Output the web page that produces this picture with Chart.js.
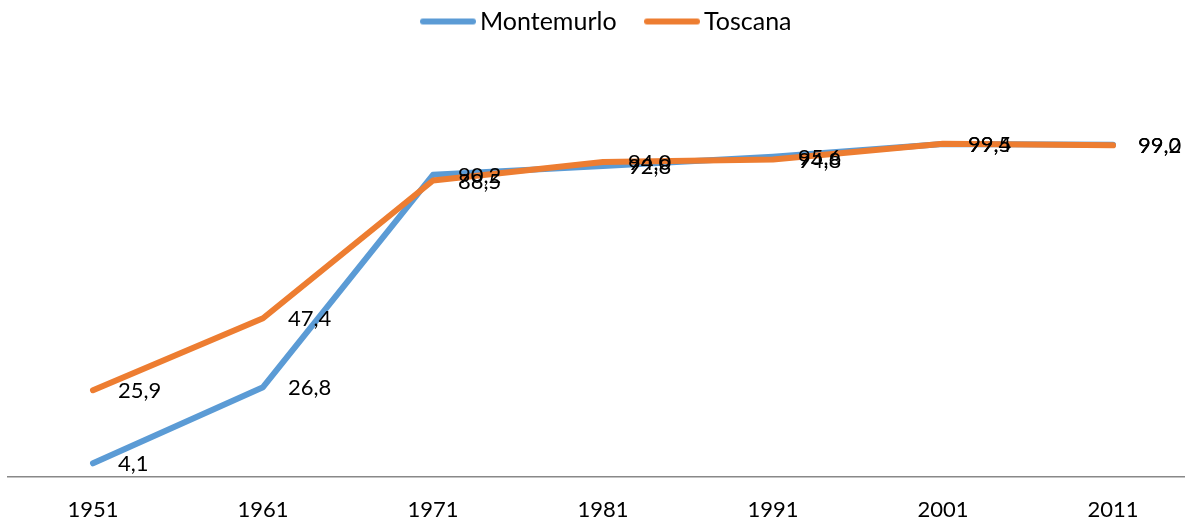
<!DOCTYPE html>
<html>
<head>
<meta charset="utf-8">
<script src="https://cdn.jsdelivr.net/npm/chart.js@4/dist/chart.umd.min.js"></script>
<style>
  html, body { margin: 0; padding: 0; background: #fff; overflow: hidden; }
  #wrap { position: relative; width: 1206px; height: 521px; }
</style>
</head>
<body>
<div id="wrap"><canvas id="c" width="1206" height="521"></canvas></div>
<script>
const categories = ["1951", "1961", "1971", "1981", "1991", "2001", "2011"];
const montemurlo = [4.1, 26.8, 90.2, 92.8, 95.6, 99.4, 99.2];
const toscana = [25.9, 47.4, 88.5, 94.0, 94.8, 99.5, 99.0];
const seriesNames = ["Montemurlo", "Toscana"];
const seriesColors = ["#5B9BD5", "#ED7D31"];

const FONT = "Lato, 'Open Sans', sans-serif";

function lineIcon(color) {
  const c = document.createElement('canvas');
  c.width = 56; c.height = 8;
  const g = c.getContext('2d');
  g.strokeStyle = color; g.lineWidth = 6; g.lineCap = 'round';
  g.beginPath(); g.moveTo(3, 4); g.lineTo(53, 4); g.stroke();
  return c;
}

const valueLabels = {
  id: 'valueLabels',
  afterInit(chart) {
    const lg = chart.legend;
    if (lg) {
      const origFit = lg.fit.bind(lg);
      lg.fit = function () { origFit(); this.height = 102; };
      const origDraw = lg.draw.bind(lg);
      lg.draw = function () {
        const ctx = this.ctx;
        ctx.save();
        ctx.translate(7, 0);
        origDraw();
        ctx.restore();
      };
    }
  },
  afterDatasetsDraw(chart) {
    const ctx = chart.ctx;
    ctx.save();
    ctx.font = "22px " + FONT;
    ctx.fillStyle = "#000";
    ctx.textAlign = "left";
    ctx.textBaseline = "middle";
    chart.data.datasets.forEach((ds, i) => {
      const meta = chart.getDatasetMeta(i);
      meta.data.forEach((pt, j) => {
        const txt = ds.data[j].toFixed(1).replace('.', ',');
        ctx.fillText(txt, pt.x + 25, pt.y + 1);
      });
    });
    ctx.restore();
  }
};

function makeDataset(name, values, color, order) {
  return {
    label: name,
    data: values,
    borderColor: color,
    backgroundColor: color,
    borderWidth: 6,
    pointRadius: 0,
    pointStyle: lineIcon(color),
    tension: 0,
    borderCapStyle: 'round',
    borderJoinStyle: 'round',
    order: order
  };
}

new Chart(document.getElementById('c'), {
  type: 'line',
  data: {
    labels: categories,
    datasets: [
      makeDataset(seriesNames[0], montemurlo, seriesColors[0], 1),
      makeDataset(seriesNames[1], toscana, seriesColors[1], 0)
    ]
  },
  options: {
    responsive: false,
    animation: false,
    layout: { padding: { left: 8, right: 8, top: -27, bottom: 0 } },
    plugins: {
      legend: {
        display: true,
        position: 'top',
        labels: {
          usePointStyle: true,
          pointStyleWidth: 39,
          boxWidth: 39,
          boxHeight: 24,
          padding: 36,
          color: '#000',
          font: { family: FONT, size: 25 },
          sort: (a, b) => a.datasetIndex - b.datasetIndex
        }
      },
      tooltip: { enabled: false }
    },
    scales: {
      x: {
        offset: true,
        grid: { display: false, drawTicks: false },
        border: { display: true, color: '#888888', width: 1.5 },
        ticks: { color: '#000', font: { family: FONT, size: 22 }, padding: 20, maxRotation: 0 },
        afterFit(scale) { scale.height = 44; }
      },
      y: {
        display: false,
        min: 0,
        max: 120
      }
    }
  },
  plugins: [valueLabels]
});
</script>
</body>
</html>
